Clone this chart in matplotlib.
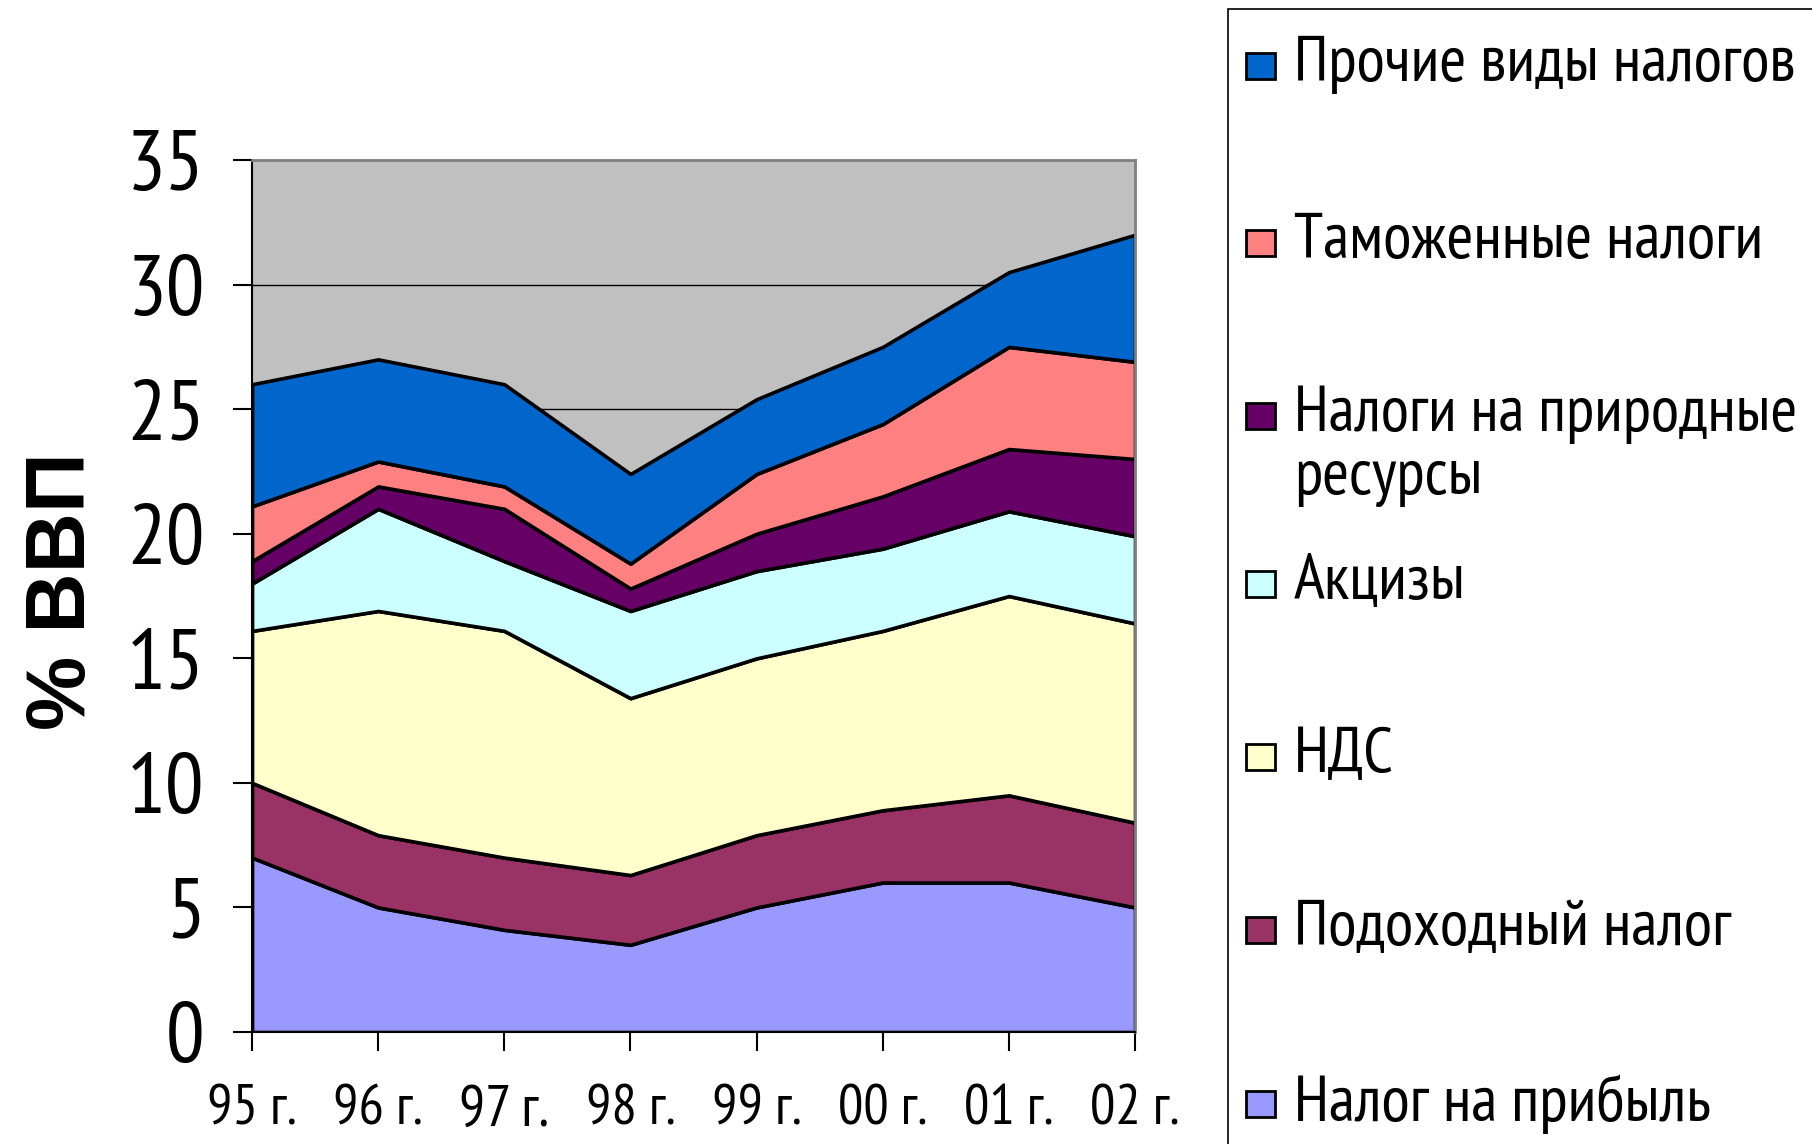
"""
Tax revenue structure, % of GDP, 1995-2002 (stacked area).
"""

import matplotlib
matplotlib.use("Agg")
import matplotlib.pyplot as plt
from matplotlib import font_manager as fm
from matplotlib.patches import Rectangle


years = ["95 г.", "96 г.", "97 г.", "98 г.", "99 г.", "00 г.", "01 г.", "02 г."]

profit_tax = [7.0, 5.0, 4.1, 3.5, 5.0, 6.0, 6.0, 5.0]
income_tax = [3.0, 2.9, 2.9, 2.8, 2.9, 2.9, 3.5, 3.4]
vat = [6.1, 9.0, 9.1, 7.1, 7.1, 7.2, 8.0, 8.0]
excises = [1.9, 4.1, 2.8, 3.5, 3.5, 3.3, 3.4, 3.5]
resource_taxes = [0.9, 0.9, 2.1, 0.9, 1.5, 2.1, 2.5, 3.1]
customs = [2.2, 1.0, 0.9, 1.0, 2.4, 2.9, 4.1, 3.9]
other_taxes = [4.9, 4.1, 4.1, 3.6, 3.0, 3.1, 3.0, 5.1]

series = [profit_tax, income_tax, vat, excises, resource_taxes, customs, other_taxes]

labels = [
    "Налог на прибыль",
    "Подоходный налог",
    "НДС",
    "Акцизы",
    "Налоги на природные\nресурсы",
    "Таможенные налоги",
    "Прочие виды налогов",
]

colors = ["#9999FF", "#993366", "#FFFFCC", "#CCFFFF", "#660066", "#FF8080", "#0066CC"]


names = {f.name for f in fm.fontManager.ttflist}
narrow = "DejaVu Sans"
for cand in ["PT Sans Narrow", "Liberation Sans Narrow", "Arimo Narrow",
             "Archivo Narrow", "Roboto Condensed", "IBM Plex Sans Condensed"]:
    if cand in names:
        narrow = cand
        break
bold_font = "Liberation Sans" if "Liberation Sans" in names else "DejaVu Sans"


def fit_width(text, max_px, renderer):
    # shrink a text until it is no wider than max_px
    for _ in range(30):
        w = text.get_window_extent(renderer).width
        if w <= max_px:
            break
        text.set_fontsize(text.get_fontsize() * max_px / w * 0.995)


fig = plt.figure(figsize=(18.12, 11.44), dpi=100)

ax = fig.add_axes([0.1391, 0.0979, 0.4873, 0.7622])

x = list(range(len(years)))

ax.stackplot(
    x,
    series,
    colors=colors,
    edgecolor="black",
    linewidth=2.6,
    zorder=2,
)

ax.set_facecolor("#C0C0C0")
ax.set_xlim(0, len(years) - 1)
ax.set_ylim(0, 35)
ax.set_yticks(range(0, 36, 5))
ax.set_xticks(x)
ax.set_xticklabels(years)

ax.grid(axis="y", color="black", linewidth=1, zorder=1)
ax.set_axisbelow(True)

for side in ["top", "right"]:
    ax.spines[side].set_color("#808080")
    ax.spines[side].set_linewidth(2)
for side in ["left", "bottom"]:
    ax.spines[side].set_color("black")
    ax.spines[side].set_linewidth(1.5)

ax.tick_params(axis="y", direction="out", length=14, width=1.5, pad=20,
               labelsize=62)
ax.tick_params(axis="x", direction="out", length=14, width=1.5, pad=24,
               labelsize=42)
for lab in ax.get_xticklabels() + ax.get_yticklabels():
    lab.set_family(narrow)

fig.text(
    0.035,
    0.483,
    "% ВВП",
    rotation=90,
    ha="center",
    va="center",
    fontsize=60,
    fontweight="bold",
    family=bold_font,
)

# legend box, cut off by the figure edge like in the original
fig.patches.append(
    Rectangle(
        (1228 / 1812, -0.1),
        0.5,
        1.1 - 9 / 1144,
        transform=fig.transFigure,
        facecolor="white",
        edgecolor="black",
        linewidth=1.2,
    )
)

entry_y = [1104, 930, 757, 584, 416, 243, 66]

legend_texts = []
for label, color, yy in zip(labels, colors, entry_y):
    fy = 1 - yy / 1144
    fig.patches.append(
        Rectangle(
            (1246 / 1812, fy - 13 / 1144),
            29 / 1812,
            26 / 1144,
            transform=fig.transFigure,
            facecolor=color,
            edgecolor="black",
            linewidth=2,
        )
    )
    t = fig.text(
        1294 / 1812,
        fy + 30 / 1144,
        label,
        ha="left",
        va="top",
        fontsize=47,
        family=narrow,
        linespacing=1.1,
    )
    legend_texts.append(t)

renderer = fig.canvas.get_renderer()
for t in legend_texts:
    fit_width(t, 505, renderer)
for lab in ax.get_xticklabels():
    fit_width(lab, 90, renderer)

fig.savefig("out.png", dpi=100)
plt.close(fig)
